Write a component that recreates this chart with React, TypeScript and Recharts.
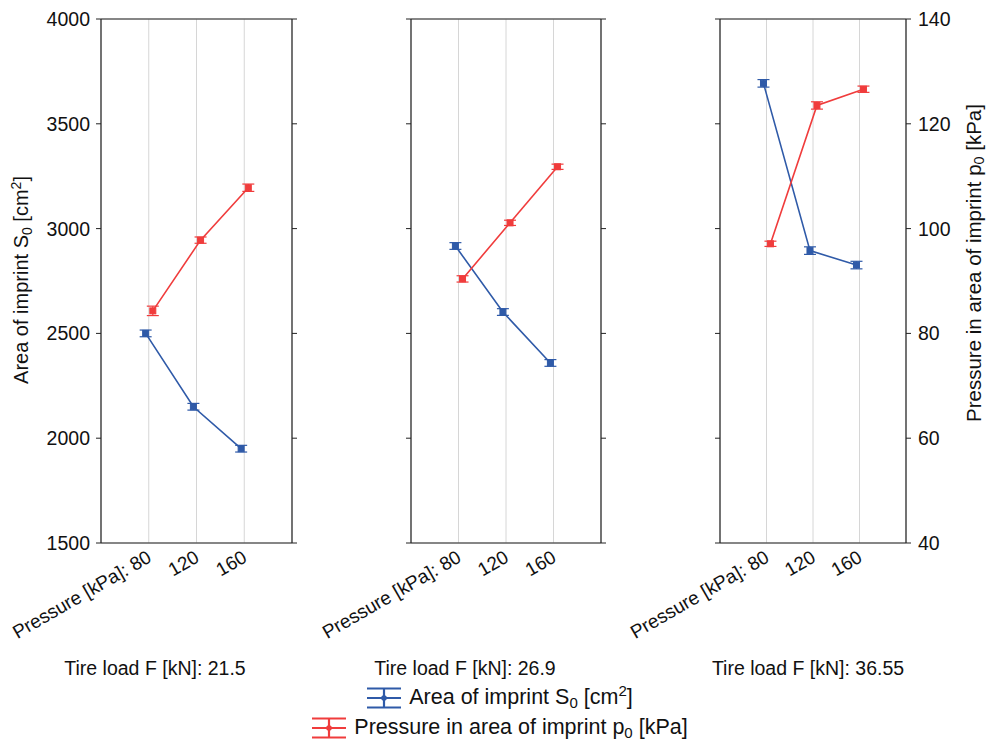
import { LineChart, Line, XAxis, YAxis, CartesianGrid, ErrorBar, ReferenceLine } from 'recharts';

// pressure levels (x categories) and tire loads (one panel each)
const pressures = [80, 120, 160];
const tireLoads = ['21.5', '26.9', '36.55'];

// area of imprint S0 [cm2], per panel
const areaValues = [
  [2500, 2150, 1950],
  [2917, 2602, 2359],
  [3693, 2895, 2826],
];
const areaErrors = [
  [16, 16, 16],
  [16, 16, 16],
  [18, 18, 18],
];

// pressure in area of imprint p0 [kPa], per panel
const pressureValues = [
  [84.3, 97.8, 107.8],
  [90.4, 101.1, 111.8],
  [97.1, 123.5, 126.6],
];
const pressureErrors = [
  [0.9, 0.6, 0.7],
  [0.6, 0.5, 0.5],
  [0.5, 0.7, 0.6],
];

const areaTicks = [1500, 2000, 2500, 3000, 3500, 4000];
const pressureTicks = [40, 60, 80, 100, 120, 140];

const BLUE = '#2f5aa8';
const RED = '#f03c3c';
const AXIS = '#222';
const GRID = '#d6d6d6';
const FONT = '"Liberation Sans", Arial, sans-serif';

// layout of the three panels (plot area left edge / width)
const panelLeft = [101, 411, 720];
const panelWidth = [191, 190, 186];
const labelCenter = [155, 465, 808];

const PressureTick = (props: any) => {
  const { x, y, payload } = props;
  const idx = payload.value - 1;
  const label = idx === 0 ? `Pressure [kPa]: ${pressures[idx]}` : `${pressures[idx]}`;
  const tx = x + 4;
  return (
    <text
      x={tx}
      y={y}
      textAnchor="end"
      fontSize={19}
      fontFamily={FONT}
      fill="#111"
      transform={`rotate(-30, ${tx}, ${y})`}
    >
      {label}
    </text>
  );
};

const squareDot = (color: string) => (props: any) => (
  <rect
    key={`dot-${props.index}`}
    x={props.cx - 3}
    y={props.cy - 3}
    width={6}
    height={6}
    fill={color}
    stroke={color}
  />
);

function Panel({ k }: { k: number }) {
  const areaData = pressures.map((_, i) => ({
    x: i + 1 - 0.065,
    v: areaValues[k][i],
    e: areaErrors[k][i],
  }));
  const pressureData = pressures.map((_, i) => ({
    x: i + 1 + 0.085,
    v: pressureValues[k][i],
    e: pressureErrors[k][i],
  }));
  const isFirst = k === 0;
  const isLast = k === 2;
  const rightWidth = isLast ? 80 : 60;

  return (
    <div style={{ position: 'absolute', left: panelLeft[k] - 100, top: 0 }}>
      <LineChart
        width={100 + panelWidth[k] + rightWidth}
        height={643}
        margin={{ top: 19, right: 0, bottom: 0, left: 0 }}
      >
        <CartesianGrid stroke={GRID} strokeWidth={1} />
        <XAxis
          dataKey="x"
          type="number"
          domain={[0, 4]}
          ticks={[1, 2, 3]}
          allowDataOverflow
          height={100}
          tickSize={0}
          tickMargin={18}
          tickLine={false}
          axisLine={{ stroke: AXIS, strokeWidth: 1.2 }}
          tick={<PressureTick />}
        />
        <YAxis
          yAxisId="a"
          domain={[1500, 4000]}
          ticks={areaTicks}
          allowDataOverflow
          width={100}
          tickSize={5}
          tickMargin={6}
          axisLine={{ stroke: AXIS, strokeWidth: 1.2 }}
          tickLine={{ stroke: AXIS }}
          tick={{ fontSize: 19.5, fill: '#111', fontFamily: FONT }}
          tickFormatter={(v) => (isFirst ? String(v) : '')}
        />
        <YAxis
          yAxisId="p"
          orientation="right"
          domain={[40, 140]}
          ticks={pressureTicks}
          allowDataOverflow
          width={rightWidth}
          tickSize={5}
          tickMargin={7}
          axisLine={{ stroke: AXIS, strokeWidth: 1.2 }}
          tickLine={{ stroke: AXIS }}
          tick={{ fontSize: 19.5, fill: '#111', fontFamily: FONT, textAnchor: 'start' }}
          tickFormatter={(v) => (isLast ? String(v) : '')}
        />
        <ReferenceLine yAxisId="a" y={4000} stroke={AXIS} strokeWidth={1.2} />
        <Line
          yAxisId="a"
          data={areaData}
          dataKey="v"
          stroke={BLUE}
          strokeWidth={1.6}
          dot={squareDot(BLUE)}
          activeDot={false}
          isAnimationActive={false}
        >
          <ErrorBar dataKey="e" width={6} stroke={BLUE} strokeWidth={1.2} direction="y" />
        </Line>
        <Line
          yAxisId="p"
          data={pressureData}
          dataKey="v"
          stroke={RED}
          strokeWidth={1.6}
          dot={squareDot(RED)}
          activeDot={false}
          isAnimationActive={false}
        >
          <ErrorBar dataKey="e" width={6} stroke={RED} strokeWidth={1.2} direction="y" />
        </Line>
      </LineChart>
    </div>
  );
}

const LegendIcon = ({ color }: { color: string }) => (
  <svg width={34} height={22} style={{ marginRight: 8, flex: 'none' }}>
    <line x1={0} x2={34} y1={1.5} y2={1.5} stroke={color} strokeWidth={2.2} />
    <line x1={0} x2={34} y1={11} y2={11} stroke={color} strokeWidth={2.2} />
    <line x1={0} x2={34} y1={20.5} y2={20.5} stroke={color} strokeWidth={2.2} />
    <line x1={17} x2={17} y1={1.5} y2={20.5} stroke={color} strokeWidth={2.2} />
    <circle cx={17} cy={11} r={2.8} fill={color} />
  </svg>
);

const sub = { fontSize: '0.7em', verticalAlign: '-0.25em', lineHeight: 0 };
const sup = { fontSize: '0.7em', verticalAlign: '0.5em', lineHeight: 0 };

const legendRow = {
  display: 'flex',
  alignItems: 'center',
  whiteSpace: 'nowrap' as const,
  height: 30,
  lineHeight: 1,
};

export default function App() {
  return (
    <div
      style={{
        position: 'absolute',
        left: 0,
        top: 0,
        width: 987,
        height: 742,
        background: '#fff',
        fontFamily: FONT,
        color: '#111',
        overflow: 'hidden',
      }}
    >
      {tireLoads.map((_, k) => (
        <Panel key={k} k={k} />
      ))}

      {tireLoads.map((load, k) => (
        <div
          key={load}
          style={{
            position: 'absolute',
            left: labelCenter[k],
            top: 669,
            transform: 'translate(-50%, -50%)',
            fontSize: 19.5,
            whiteSpace: 'nowrap',
            lineHeight: 1,
          }}
        >
          Tire load F [kN]: {load}
        </div>
      ))}

      <div
        style={{
          position: 'absolute',
          left: 21,
          top: 280,
          transform: 'translate(-50%, -50%) rotate(-90deg)',
          fontSize: 20,
          whiteSpace: 'nowrap',
          lineHeight: 1,
        }}
      >
        Area of imprint S<span style={sub}>0</span> [cm<span style={sup}>2</span>]
      </div>

      <div
        style={{
          position: 'absolute',
          left: 974,
          top: 263,
          transform: 'translate(-50%, -50%) rotate(-90deg)',
          fontSize: 20.5,
          whiteSpace: 'nowrap',
          lineHeight: 1,
        }}
      >
        Pressure in area of imprint p<span style={sub}>0</span> [kPa]
      </div>

      <div
        style={{
          position: 'absolute',
          left: 0,
          top: 683,
          width: 1000,
          display: 'flex',
          flexDirection: 'column',
          alignItems: 'center',
          fontSize: 21.5,
        }}
      >
        <div style={legendRow}>
          <LegendIcon color={BLUE} />
          <span>
            Area of imprint S<span style={sub}>0</span> [cm<span style={sup}>2</span>]
          </span>
        </div>
        <div style={legendRow}>
          <LegendIcon color={RED} />
          <span>
            Pressure in area of imprint p<span style={sub}>0</span> [kPa]
          </span>
        </div>
      </div>
    </div>
  );
}
